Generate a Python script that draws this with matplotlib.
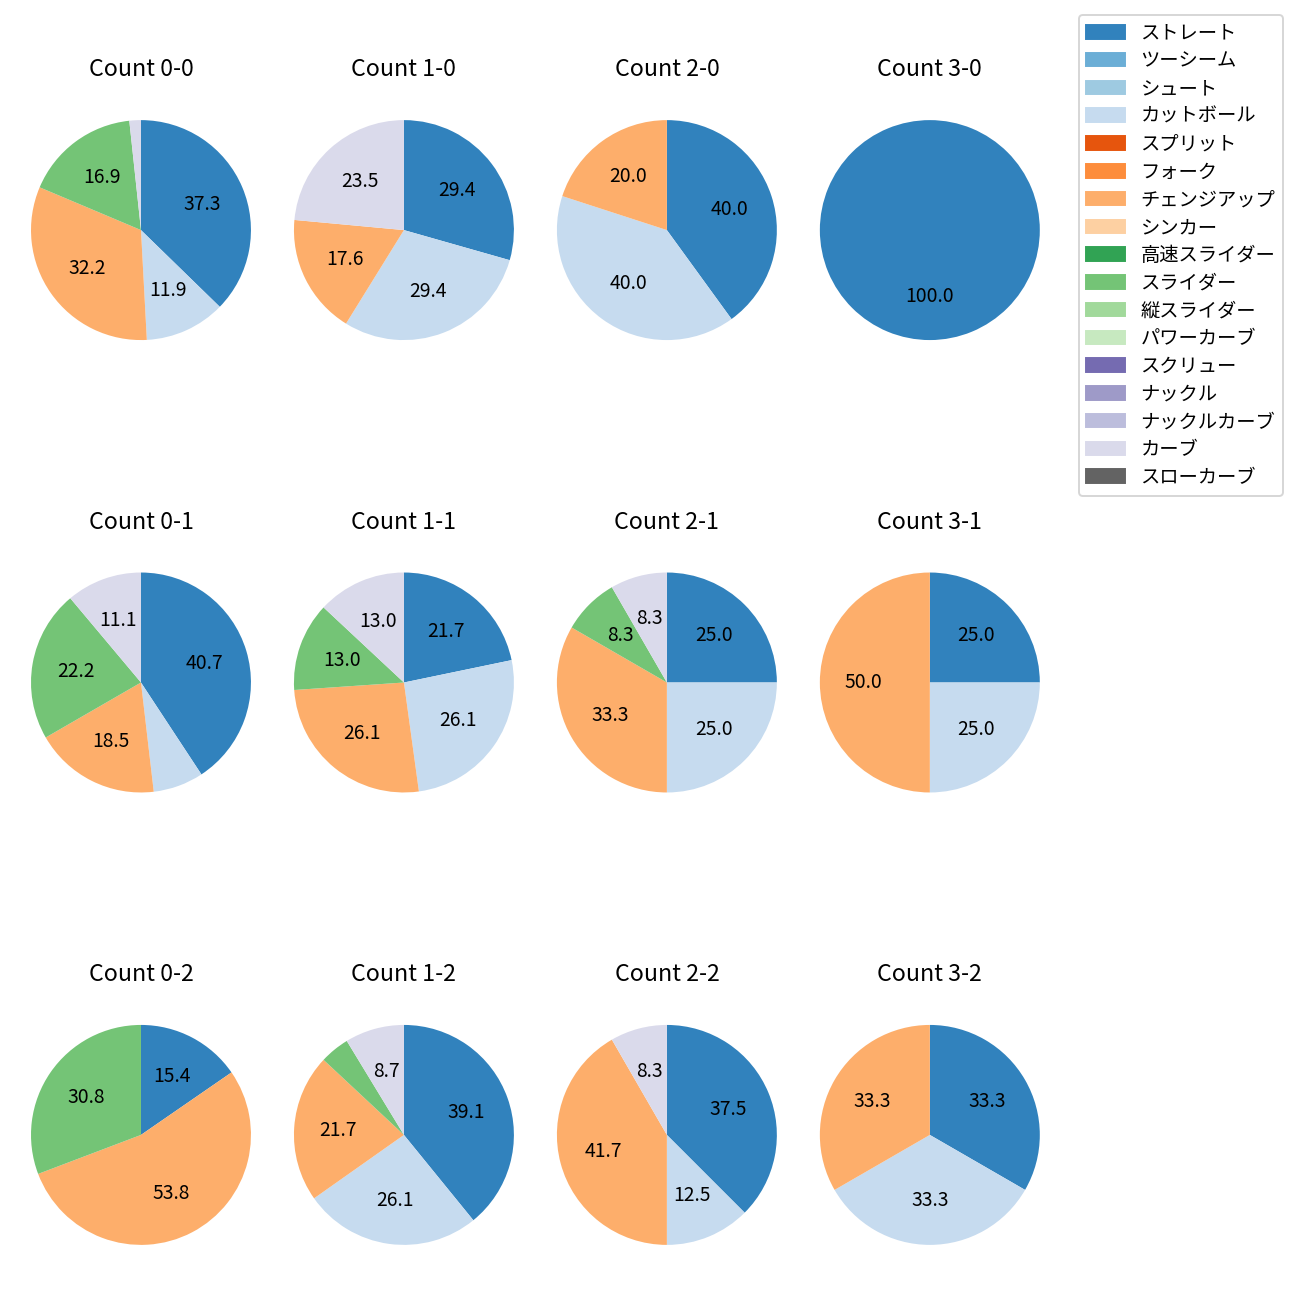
import numpy as np
import matplotlib
matplotlib.use("Agg")
import matplotlib.pyplot as plt
from matplotlib.patches import Patch

plt.rcParams['font.family'] = ['Noto Sans CJK JP', 'DejaVu Sans']

# 球種と色 (tab20c 系)
pitch_types = ['ストレート', 'ツーシーム', 'シュート', 'カットボール', 'スプリット', 'フォーク',
               'チェンジアップ', 'シンカー', '高速スライダー', 'スライダー', '縦スライダー',
               'パワーカーブ', 'スクリュー', 'ナックル', 'ナックルカーブ', 'カーブ', 'スローカーブ']
pitch_colors = ['#3182bd', '#6baed6', '#9ecae1', '#c6dbef', '#e6550d', '#fd8d3c',
                '#fdae6b', '#fdd0a2', '#31a354', '#74c476', '#a1d99b', '#c7e9c0',
                '#756bb1', '#9e9ac8', '#bcbddc', '#dadaeb', '#636363']

# カウント別の投球数 (ストレート, カットボール, チェンジアップ, スライダー, カーブ)
used_types = ['ストレート', 'カットボール', 'チェンジアップ', 'スライダー', 'カーブ']
counts = ['0-0', '1-0', '2-0', '3-0',
          '0-1', '1-1', '2-1', '3-1',
          '0-2', '1-2', '2-2', '3-2']
pitches = [
    [22, 7, 19, 10, 1],
    [5, 5, 3, 0, 4],
    [2, 2, 1, 0, 0],
    [1, 0, 0, 0, 0],
    [11, 2, 5, 6, 3],
    [5, 6, 6, 3, 3],
    [3, 3, 4, 1, 1],
    [1, 1, 2, 0, 0],
    [2, 0, 7, 4, 0],
    [9, 6, 5, 1, 2],
    [9, 3, 10, 0, 2],
    [1, 1, 1, 0, 0],
]

color_of = dict(zip(pitch_types, pitch_colors))

dpi = 139
fig, axes = plt.subplots(3, 4, figsize=(1300 / dpi, 1300 / dpi), dpi=dpi)
fig.subplots_adjust(left=0.0027, right=0.821, top=0.9385, bottom=0.0115,
                    wspace=-0.0436, hspace=0.5067)

for ax, cnt, vals in zip(axes.flat, counts, pitches):
    v = [x for x in vals if x > 0]
    c = [color_of[t] for t, x in zip(used_types, vals) if x > 0]
    ax.pie(v, colors=c, startangle=90, counterclock=False,
           autopct=lambda p: f'{p:.1f}' if p >= 8 else '')
    ax.set_title(f'Count {cnt}', pad=8.5)

handles = [Patch(color=col, label=t) for t, col in zip(pitch_types, pitch_colors)]
fig.legend(handles=handles, loc='upper right', borderaxespad=0,
           labelspacing=0.35, bbox_to_anchor=(1283 / 1300, 1 - 15 / 1300))

fig.savefig('out.png', dpi=dpi)
